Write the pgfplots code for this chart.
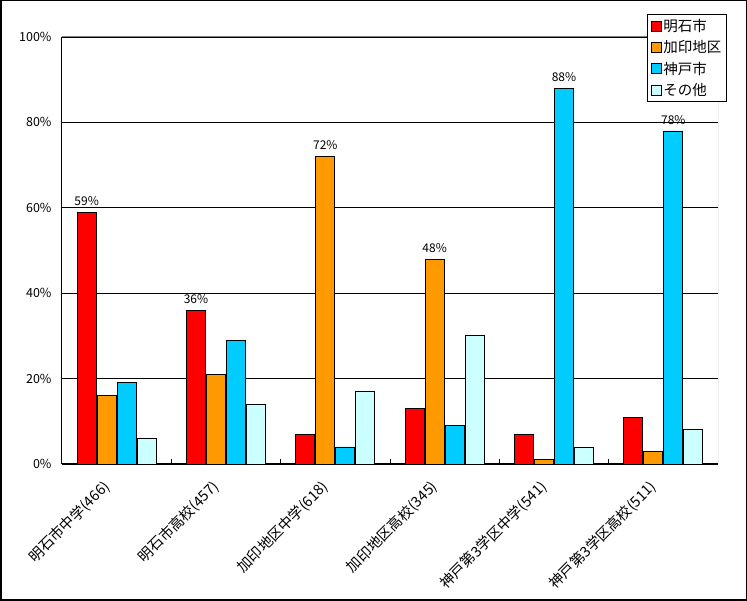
\documentclass[border=0pt]{standalone}
\usepackage{pgfplots}
\pgfplotsset{compat=1.18}
\usepackage{fontspec}
\setmainfont{Noto Sans CJK JP}
\definecolor{cRed}{RGB}{255,0,0}
\definecolor{cOrange}{RGB}{255,153,0}
\definecolor{cBlue}{RGB}{0,204,255}
\definecolor{cLight}{RGB}{204,255,255}
\begin{document}
\begin{tikzpicture}
\useasboundingbox (0pt,0pt) rectangle (747pt,601pt);
\draw[line width=1.5pt] (0.75pt,0.75pt) rectangle (746.25pt,600.25pt);
\begin{axis}[
  at={(62pt,137pt)}, anchor=south west,
  scale only axis, width=656pt, height=427pt,
  ymin=0, ymax=100, xmin=-0.5, xmax=5.5,
  ybar=1pt, bar width=19pt,
  ytick={0,20,...,100},
  yticklabels={0\%,20\%,40\%,60\%,80\%,100\%},
  xtick={0,...,5},
  xticklabels={明石市中学(466),明石市高校(457),加印地区中学(618),加印地区高校(345),神戸第3学区中学(541),神戸第3学区高校(511)},
  x tick label style={rotate=45, anchor=north east, font=\fontsize{14.5}{16}\selectfont, inner sep=1pt, xshift=-20pt, yshift=1pt},
  y tick label style={font=\fontsize{12.5}{14}\selectfont, xshift=-7pt},
  ymajorgrids, major grid style={black, line width=0.8pt},
  axis x line*=bottom, axis y line*=left,
  axis line style={black, line width=1pt, -},
  major tick length=0pt,
  minor xtick={0.5,1.5,...,4.5}, minor tick length=5pt,
  minor x tick style={black, line width=0.8pt},
  tick align=inside,
  point meta=explicit symbolic,
  nodes near coords,
  every node near coord/.append style={font=\fontsize{12}{13}\selectfont, black, inner sep=2pt, yshift=4pt},
  every axis plot/.append style={draw=black, line width=0.8pt},
  legend style={at={(1.0137,1.054)}, anchor=north east, draw=black, line width=1pt,
    font=\fontsize{14.5}{16}\selectfont, row sep=3.5pt, inner sep=3pt, cells={anchor=west}},
  legend image code/.code={\draw[#1,draw=black,line width=0.8pt] (0pt,-5pt) rectangle (10pt,5pt);},
]
\addplot[fill=cRed] coordinates {(0,59) [59\%] (1,36) [36\%] (2,7) [] (3,13) [] (4,7) [] (5,11) []};
\addplot[fill=cOrange] coordinates {(0,16) [] (1,21) [] (2,72) [72\%] (3,48) [48\%] (4,1) [] (5,3) []};
\addplot[fill=cBlue] coordinates {(0,19) [] (1,29) [] (2,4) [] (3,9) [] (4,88) [88\%] (5,78) [78\%]};
\addplot[fill=cLight] coordinates {(0,6) [] (1,14) [] (2,17) [] (3,30) [] (4,4) [] (5,8) []};
\legend{明石市,加印地区,神戸市,その他}
\draw[gray, line width=1pt] (rel axis cs:0,1) -- (rel axis cs:1,1) -- (rel axis cs:1,0);
\end{axis}
\end{tikzpicture}
\end{document}
